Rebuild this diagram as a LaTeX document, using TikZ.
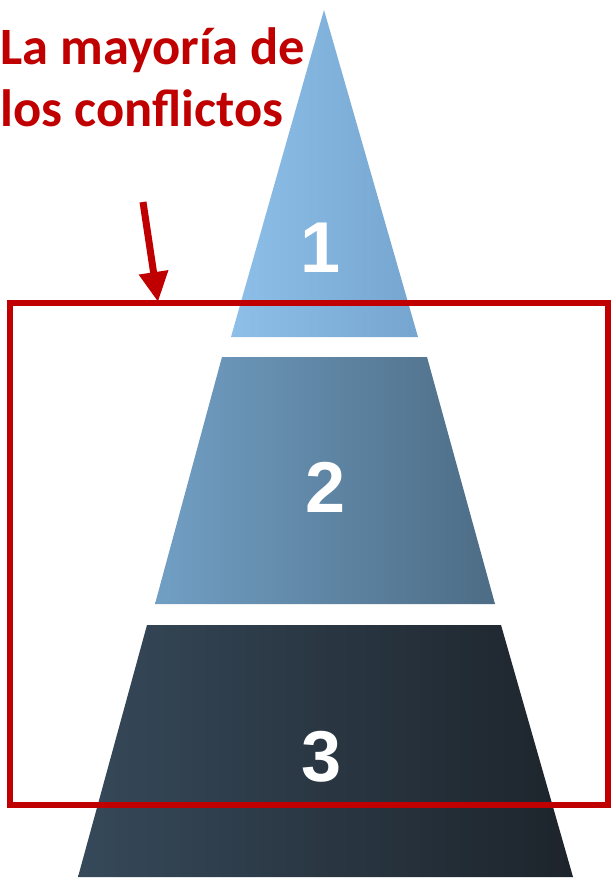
\documentclass[tikz,border=0pt]{standalone}
\usepackage{fontspec}
\setmainfont{Carlito}
\newfontfamily\numfont{Liberation Sans}
\usetikzlibrary{arrows.meta}
\definecolor{dred}{HTML}{C00000}
\definecolor{ta}{HTML}{8DBFE8}
\definecolor{tb}{HTML}{76A6CF}
\definecolor{tc}{HTML}{719FC4}
\definecolor{td}{HTML}{4D6C85}
\definecolor{te}{HTML}{36495A}
\definecolor{tf}{HTML}{1D242B}
\tikzset{
  tiernum/.style={text=white,font=\numfont\bfseries\fontsize{72}{72}\selectfont,inner sep=0pt},
  label/.style={text=dred,font=\bfseries\fontsize{52.5}{60}\selectfont,inner sep=0pt,anchor=base west},
  frame/.style={draw=dred,line width=5.5pt},
  pointer/.style={draw=dred,line width=7pt,-{Triangle[length=30pt,width=28pt]}}
}
\begin{document}
\begin{tikzpicture}[x=1pt,y=-1pt]
\useasboundingbox (0,0) rectangle (613,883);
\fill[white] (0,0) rectangle (613,883);
% tiers
\shade[left color=ta,right color=tb] (324,10) -- (418,337) -- (231,337) -- cycle;
\shade[left color=tc,right color=td] (222,357) -- (427,357) -- (495,604) -- (155,604) -- cycle;
\shade[left color=te,right color=tf] (147,625) -- (501,625) -- (573,877) -- (78,877) -- cycle;
\node[tiernum] (n1) at (321,248) {1};
\node[tiernum] (n2) at (326,487) {2};
\node[tiernum] (n3) at (322,757) {3};
% frame
\node[frame,minimum width=598pt,minimum height=502pt,inner sep=0pt] (box) at (309,554) {};
% label
\node[label] (l1) at (0.5,64) {La mayoría de};
\node[label] (l2) at (0.5,126) {los conflictos};
\coordinate (tail) at (143,202);
\coordinate (tip) at (158,302);
\draw[pointer] (tail) -- (tip);
\end{tikzpicture}
\end{document}
